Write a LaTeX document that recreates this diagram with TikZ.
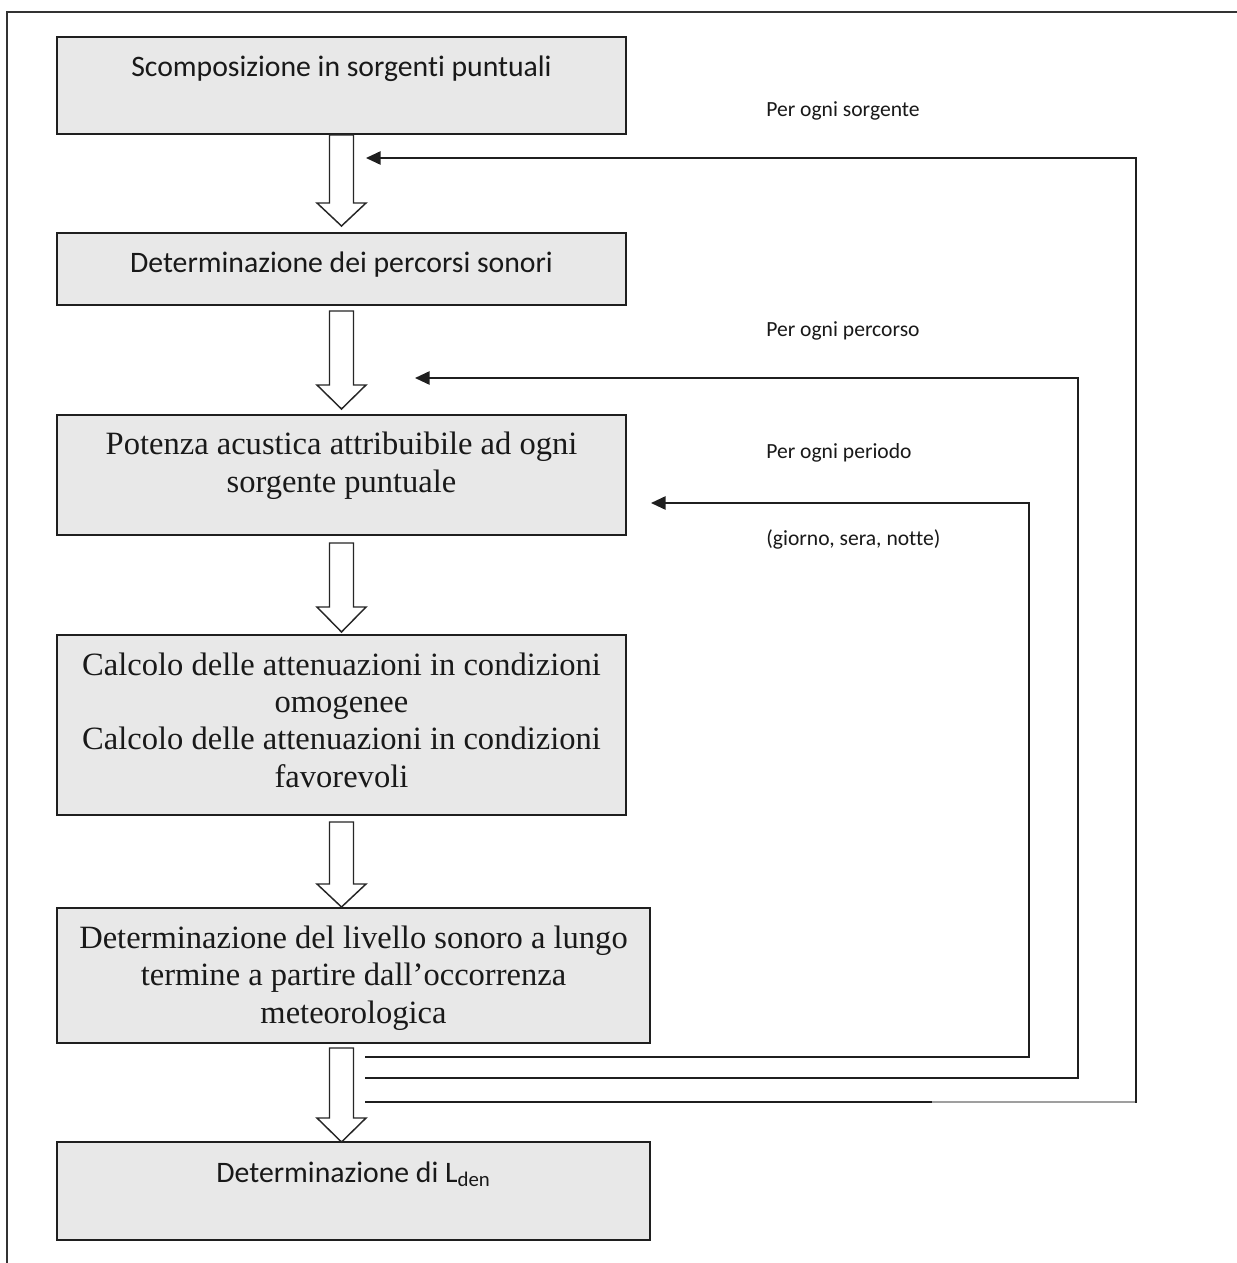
\documentclass[tikz,border=0pt]{standalone}
\usepackage{fontspec}
\setmainfont{Liberation Serif}
\newfontfamily\calfont[Ligatures=NoCommon]{Carlito}
\usetikzlibrary{arrows.meta,fit}

% one unit = one pixel of the final page
\tikzset{
  x=0.75pt, y=-0.75pt,
  stage/.style={draw=black!88, line width=1.4pt, fill=gray!18, inner sep=0pt},
  sanstext/.style={font=\calfont\fontsize{22.3}{27}\selectfont, text=black!90, inner sep=0pt},
  seriftext/.style={font=\fontsize{24.4}{28}\selectfont, text=black!90, inner sep=0pt, align=center},
  looplabel/.style={font=\calfont\fontsize{16.2}{19}\selectfont, text=black!90, inner sep=0pt, anchor=base west},
  hollow/.style={draw=black!85, line width=1.1pt, fill=white, line join=miter},
  loopline/.style={draw=black!88, line width=1.3pt, -{Triangle[length=11pt,width=10pt]}},
  frame/.style={draw=black!80, line width=1.5pt}
}
% hollow downward block arrow: centre x, top, head base, tip
\newcommand\hollowarrow[4]{%
  \draw[hollow] (#1-12,#2) -- (#1-12,#3) -- (#1-24.5,#3) -- (#1,#4)
    -- (#1+24.5,#3) -- (#1+12,#3) -- (#1+12,#2) -- cycle;}

\begin{document}
\begin{tikzpicture}
\useasboundingbox (0,0) rectangle (1237,1263);
\fill[white] (0,0) rectangle (1237,1263);

% page frame (top and left edges only)
\draw[frame] (1237,12) -- (7,12) -- (7,1263);

% process stages
\node[stage, fit={(57,37) (626,134)}] (b1) {};
\node[stage, fit={(57,233) (626,305)}] (b2) {};
\node[stage, fit={(57,415) (626,535)}] (b3) {};
\node[stage, fit={(57,635) (626,815)}] (b4) {};
\node[stage, fit={(57,908) (650,1043)}] (b5) {};
\node[stage, fit={(57,1142) (650,1240)}] (b6) {};

% stage texts (multi-line nodes are placed by their last baseline)
\node[sanstext, anchor=base] (t1) at (341.5,77) {Scomposizione in sorgenti puntuali};
\node[sanstext, anchor=base] (t2) at (341.5,272) {Determinazione dei percorsi sonori};
\node[seriftext, anchor=base] (t3) at (341.5,492) {Potenza acustica attribuibile ad ogni\\sorgente puntuale};
\node[seriftext, anchor=base] (t4) at (341.5,787) {Calcolo delle attenuazioni in condizioni\\omogenee\\Calcolo delle attenuazioni in condizioni\\favorevoli};
\node[seriftext, anchor=base] (t5) at (353.5,1023) {Determinazione del livello sonoro a lungo\\termine a partire dall'occorrenza\\meteorologica};
\node[sanstext, anchor=base] (t6) at (353.5,1182) {Determinazione di L\textsubscript{den}};

% flow between stages
\hollowarrow{341.5}{135}{203}{226}
\hollowarrow{341.5}{311}{385}{409}
\hollowarrow{341.5}{543}{607}{632}
\hollowarrow{341.5}{822}{884}{907}
\hollowarrow{341.5}{1048}{1118}{1142}

% loop-back lines
\coordinate (periodoOut) at (365,1057);
\coordinate (percorsoOut) at (365,1078);
\coordinate (sorgenteOut) at (365,1102);
\coordinate (periodoIn) at (651,503);
\coordinate (percorsoIn) at (415,378);
\coordinate (sorgenteIn) at (366,158);

\draw[loopline] (periodoOut) -- (1029,1057) |- (periodoIn);
\draw[loopline] (percorsoOut) -- (1078,1078) |- (percorsoIn);
\draw[loopline] (sorgenteOut) -- (1136,1102) |- (sorgenteIn);
\draw[draw=gray!75, line width=1.3pt] (932,1102) -- (1135.4,1102);

\node[looplabel] (l1) at (766,116) {Per ogni sorgente};
\node[looplabel] (l2) at (766,336) {Per ogni percorso};
\node[looplabel] (l3) at (766,458) {Per ogni periodo};
\node[looplabel] (l4) at (766,545) {(giorno, sera, notte)};
\end{tikzpicture}
\end{document}
